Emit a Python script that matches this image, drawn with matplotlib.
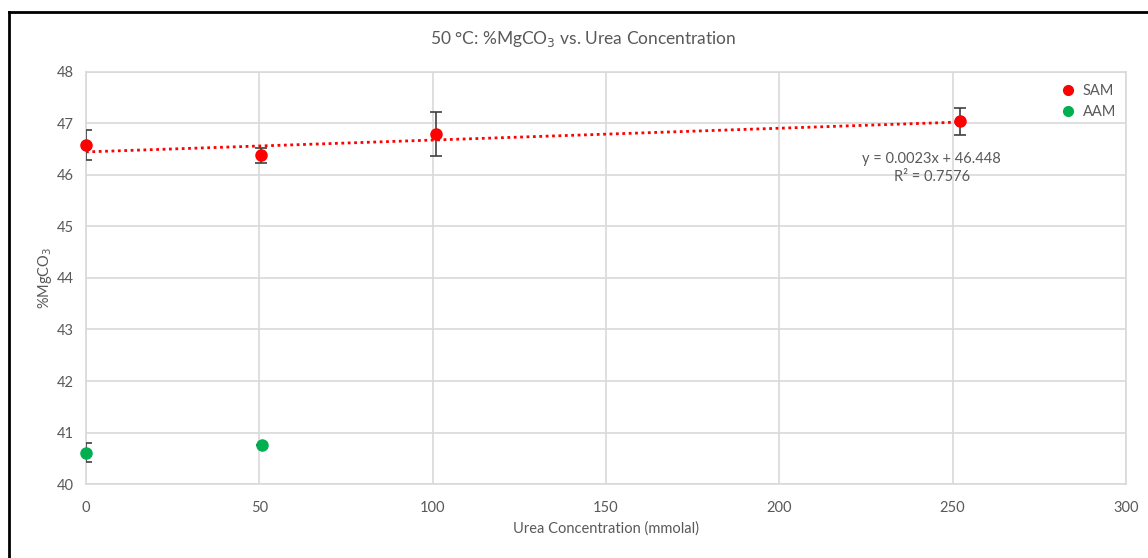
import numpy as np
import matplotlib
matplotlib.use("Agg")
import matplotlib.pyplot as plt
from matplotlib.lines import Line2D

plt.rcParams['font.family'] = ['Lato', 'DejaVu Sans']

# SAM series (urea mmolal, %MgCO3, std dev)
sam_x = [0, 50.5, 101, 252]
sam_y = [46.58, 46.38, 46.79, 47.04]
sam_err = [0.29, 0.14, 0.43, 0.26]

# AAM series
aam_x = [0, 50.7]
aam_y = [40.61, 40.76]
aam_err = [0.18, 0.0]

# linear trendline for SAM
slope = 0.0023
intercept = 46.448
r2 = 0.7576

grey = '#595959'
grid_c = '#d9d9d9'

fig = plt.figure(figsize=(11.48, 5.58), dpi=100)
ax = fig.add_axes([0.0749, 0.1326, 0.9059, 0.7384])

ax.set_xlim(0, 300)
ax.set_ylim(40, 48)
ax.set_xticks(np.arange(0, 301, 50))
ax.set_yticks(np.arange(40, 49, 1))
ax.grid(True, color=grid_c, linewidth=1.2)
ax.set_axisbelow(True)
for s in ax.spines.values():
    s.set_color(grid_c)
    s.set_linewidth(1.2)
ax.tick_params(length=0, labelsize=10.5, labelcolor=grey)
ax.tick_params(axis='x', pad=12)
ax.tick_params(axis='y', pad=9)

# trendline
tx = np.array([0, max(sam_x)])
ax.plot(tx, slope * tx + intercept, color='#ff0000', linestyle=(0, (1, 1.3)),
        linewidth=2, zorder=2)

# error bars, clipped to plot area
ax.errorbar(sam_x, sam_y, yerr=sam_err, fmt='none', ecolor='#404040',
            elinewidth=1.2, capsize=4, capthick=1.2, zorder=3)
ax.errorbar(aam_x, aam_y, yerr=aam_err, fmt='none', ecolor='#404040',
            elinewidth=1.2, capsize=4, capthick=1.2, zorder=3)

ax.plot(sam_x, sam_y, 'o', color='#ff0000', markersize=8, clip_on=False, zorder=4)
ax.plot(aam_x, aam_y, 'o', color='#00b050', markersize=8, clip_on=False, zorder=4)

ax.text(244, 46.14, f'y = {slope}x + {intercept}\nR² = {r2}', color=grey,
        fontsize=10.5, ha='center', va='center', linespacing=1.35)

handles = [Line2D([], [], marker='o', color='#ff0000', linestyle='none', markersize=7),
           Line2D([], [], marker='o', color='#00b050', linestyle='none', markersize=7)]
leg = ax.legend(handles, ['SAM', 'AAM'], loc='upper right', frameon=False,
                fontsize=10.5, handletextpad=0.0, labelspacing=0.5,
                borderaxespad=0.4, bbox_to_anchor=(1.002, 1.0))
for t in leg.get_texts():
    t.set_color(grey)

ax.set_xlabel('Urea Concentration (mmolal)', color=grey, fontsize=10.5, labelpad=5)
ax.set_ylabel('%MgCO$_3$', color=grey, fontsize=10.5, labelpad=2)

fig.text(0.508, 0.930, '50 °C: %MgCO$_3$ vs. Urea Concentration', color=grey,
         fontsize=12.5, ha='center', va='center')

# chart border (left and top edges)
fig.add_artist(Line2D([9 / 1148, 9 / 1148], [0, 1 - 12 / 558], color='black',
                      linewidth=2, transform=fig.transFigure))
fig.add_artist(Line2D([9 / 1148, 1], [1 - 12 / 558, 1 - 12 / 558], color='black',
                      linewidth=2, transform=fig.transFigure))

fig.savefig('out.png', dpi=100)
